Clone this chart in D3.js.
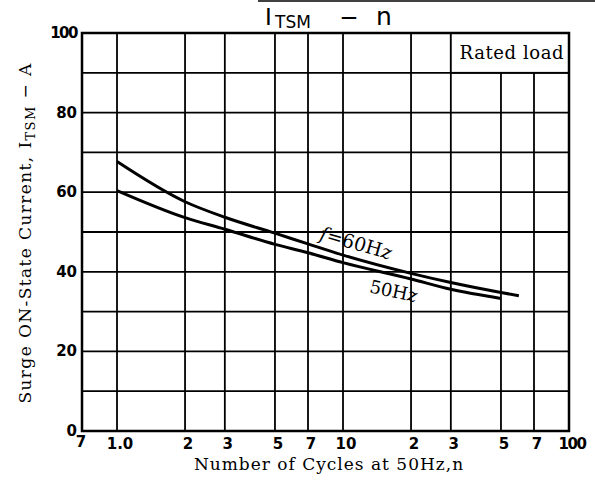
<!DOCTYPE html>
<html lang="en">
<head>
<meta charset="UTF-8"/>
<title>ITSM - n</title>
<script src="https://d3js.org/d3.v7.min.js"></script>
<style>
  body { margin: 0; background: #fff; }
  svg { display: block; }
  .grid line { stroke: #000; stroke-width: 1.8; }
  .frame { fill: none; stroke: #000; stroke-width: 2.5; }
  .curve { fill: none; stroke: #000; stroke-width: 3; }
  .tick-label { font-family: "DejaVu Sans", sans-serif; font-size: 15px; font-weight: bold; fill: #000; }
  .serif { font-family: "DejaVu Serif", serif; fill: #000; }
  .title { font-family: "DejaVu Sans", sans-serif; font-size: 23px; fill: #000; }
</style>
</head>
<body>
<svg width="595" height="490"></svg>
<script>
// cycles n (50 Hz) and surge current in A
const n60 = [1, 2, 3, 5, 7, 10, 20, 30, 50, 60];
const i60 = [67.7, 57.6, 53.7, 49.7, 47.0, 44.2, 39.6, 37.3, 34.8, 34.0];
const n50 = [1, 2, 3, 5, 7, 10, 20, 30, 50];
const i50 = [60.4, 53.6, 50.7, 46.9, 44.8, 42.3, 38.2, 35.6, 33.3];

const xGrid = [0.7, 1, 2, 3, 5, 7, 10, 20, 30, 50, 70, 100];
const xTickText = ['7', '1.0', '2', '3', '5', '7', '10', '2', '3', '5', '7', '100'];
const yGrid = [0, 10, 20, 30, 40, 50, 60, 70, 80, 90, 100];
const yTicks = [0, 20, 40, 60, 80, 100];

const svg = d3.select('svg');
const pLeft = 82, pRight = 569, pTop = 33, pBottom = 431;

const x = d3.scaleLog().domain([0.7, 100]).range([pLeft, pRight]);
const y = d3.scaleLinear().domain([0, 100]).range([pBottom, pTop]);

// grid
const grid = svg.append('g').attr('class', 'grid');
grid.selectAll('.v')
  .data(xGrid)
  .enter().append('line')
  .attr('x1', d => x(d)).attr('x2', d => x(d))
  .attr('y1', pTop).attr('y2', pBottom);
grid.selectAll('.h')
  .data(yGrid)
  .enter().append('line')
  .attr('x1', pLeft).attr('x2', pRight)
  .attr('y1', d => y(d)).attr('y2', d => y(d));

// "Rated load" box covers the top right cells
svg.append('rect')
  .attr('x', x(30)).attr('y', y(100))
  .attr('width', x(100) - x(30)).attr('height', y(90) - y(100))
  .attr('fill', '#fff').attr('stroke', '#000').attr('stroke-width', 1.8);
svg.append('text')
  .attr('class', 'serif')
  .attr('x', (x(30) + x(100)) / 2 + 2)
  .attr('y', y(95) + 6)
  .attr('text-anchor', 'middle')
  .style('font-size', '18px')
  .style('letter-spacing', '0.6px')
  .text('Rated load');

svg.append('rect')
  .attr('class', 'frame')
  .attr('x', pLeft).attr('y', pTop)
  .attr('width', pRight - pLeft).attr('height', pBottom - pTop);

// curves
const line = d3.line()
  .x(d => x(d[0]))
  .y(d => y(d[1]))
  .curve(d3.curveMonotoneX);

svg.append('path').attr('class', 'curve')
  .attr('d', line(d3.zip(n60, i60)));
svg.append('path').attr('class', 'curve')
  .attr('d', line(d3.zip(n50, i50)));

// curve labels
const lab60 = svg.append('text')
  .attr('class', 'serif')
  .attr('transform', `translate(${x(11.2)},${y(45.6)}) rotate(16)`)
  .attr('text-anchor', 'middle')
  .style('font-size', '19px')
  .style('font-style', 'italic');
lab60.append('tspan').text('f');
lab60.append('tspan').style('font-style', 'normal').text('=60H');
lab60.append('tspan').text('z');

const lab50 = svg.append('text')
  .attr('class', 'serif')
  .attr('transform', `translate(${x(16.5)},${y(33.6)}) rotate(12)`)
  .attr('text-anchor', 'middle')
  .style('font-size', '18px');
lab50.append('tspan').text('50H');
lab50.append('tspan').style('font-style', 'italic').text('z');

// tick labels
svg.selectAll('.ytick')
  .data(yTicks)
  .enter().append('text')
  .attr('class', 'tick-label')
  .attr('x', pLeft - 5)
  .attr('y', d => y(d) + 5)
  .attr('text-anchor', 'end')
  .style('letter-spacing', d => d === 100 ? '-1.5px' : '0px')
  .text(d => d);

svg.selectAll('.xtick')
  .data(xGrid)
  .enter().append('text')
  .attr('class', 'tick-label')
  .attr('x', (d, i) => x(d) + (i === 0 ? -1 : 3))
  .attr('y', (d, i) => pBottom + (i === 0 ? 16 : 18))
  .attr('text-anchor', 'middle')
  .style('letter-spacing', (d, i) => xTickText[i] === '100' ? '-1.5px' : '0px')
  .text((d, i) => xTickText[i]);

// axis titles
svg.append('text')
  .attr('class', 'serif')
  .attr('x', 329)
  .attr('y', 470)
  .attr('text-anchor', 'middle')
  .style('font-size', '17px')
  .style('letter-spacing', '1px')
  .text('Number of Cycles at 50Hz,n');

const yl = svg.append('text')
  .attr('class', 'serif')
  .attr('transform', `translate(31,233) rotate(-90)`)
  .attr('text-anchor', 'middle')
  .style('font-size', '17px')
  .style('letter-spacing', '1.4px');
yl.append('tspan').text('Surge ON-State Current, I');
yl.append('tspan').attr('dy', 4).style('font-size', '13px').text('TSM');
yl.append('tspan').attr('dy', -4).text(' \u2212 A');

// title
svg.append('line')
  .attr('x1', 258).attr('x2', 595)
  .attr('y1', 1).attr('y2', 1)
  .attr('stroke', '#000').attr('stroke-width', 1.5);
svg.append('text').attr('class', 'title')
  .attr('x', 265).attr('y', 25).text('I');
svg.append('text').attr('class', 'title')
  .attr('x', 275).attr('y', 28).style('font-size', '17px').text('TSM');
svg.append('text').attr('class', 'title')
  .attr('x', 349).attr('y', 25).attr('text-anchor', 'middle').text('\u2212');
svg.append('text').attr('class', 'title')
  .attr('x', 376).attr('y', 25).style('font-size', '25px').text('n');
</script>
</body>
</html>
